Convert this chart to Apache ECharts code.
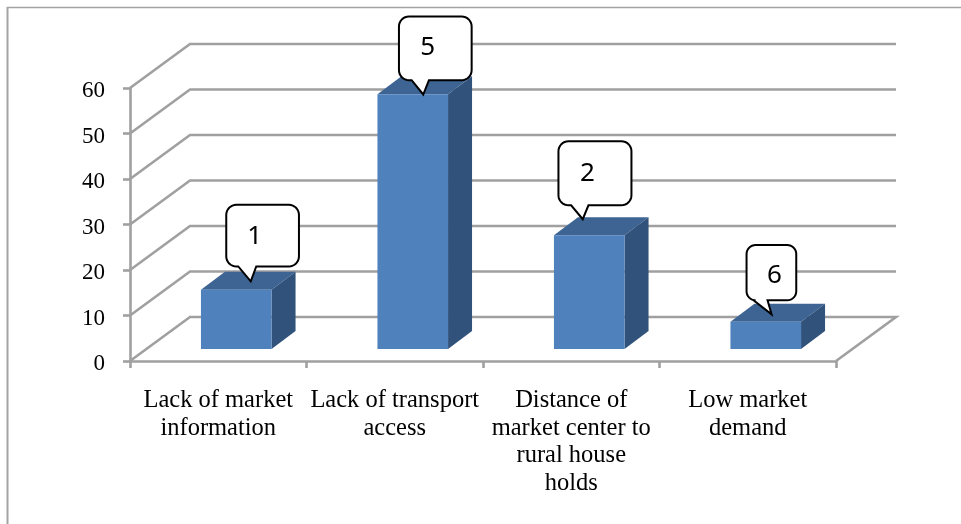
<!DOCTYPE html>
<html>
<head>
<meta charset="utf-8">
<title>Market access constraints</title>
<style>html,body{margin:0;padding:0;background:#fff}#chart{width:961px;height:524px}</style>
<script src="https://cdn.jsdelivr.net/npm/echarts@6/dist/echarts.min.js"></script>
</head>
<body>
<div id="chart"></div>
<script>
// Chart content
const categories = [
  'Lack of market\ninformation',
  'Lack of transport\naccess',
  'Distance of\nmarket center to\nrural house\nholds',
  'Low market\ndemand'
];
const values = [13, 56, 25, 6];
const calloutTexts = ['1', '5', '2', '6'];
const yTicks = [0, 10, 20, 30, 40, 50, 60];

// Callout shape relative to the centre of each bar's top edge
const calloutBoxes = [
  { x: -10, y: -85, w: 72.7, h: 61.6, r: 10, baseA: 12, baseB: 30, tipX: 14.5, tipY: -8.5, textX: 18.5, textY: -53 },
  { x: -13.8, y: -77.7, w: 72.7, h: 63.7, r: 10, baseA: 12.7, baseB: 30, tipX: 10.5, tipY: 0.3, textX: 14.9, textY: -46.4 },
  { x: -30.8, y: -94, w: 73, h: 64, r: 10, baseA: 12.7, baseB: 30, tipX: -6.5, tipY: -16, textX: -1.8, textY: -61.7 },
  { x: -19.2, y: -76.7, w: 49.7, h: 55.3, r: 9, baseA: 7, baseB: 21, tipX: 5.8, tipY: -7.4, textX: 8.8, textY: -45.7 }
];

const LABEL_FONT = '"Liberation Serif"';
const WALL = { dx: 60, dy: -44, color: '#a0a0a0', width: 2.6 };
const BAR = { shiftX: 18, shiftY: -12, depthX: 24, depthY: -18, widthRatio: 0.4,
              front: '#4f81bd', top: '#3d6493', side: '#31527b' };

// Traces a rounded rectangle with a pointed tail on its lower edge
function calloutOutline(b, cx, cy) {
  const x = cx + b.x, y = cy + b.y, r = b.r, pts = [];
  const arc = (ax, ay, from) => {
    for (let i = 0; i <= 8; i++) {
      const t = from + (i / 8) * Math.PI / 2;
      pts.push([ax + r * Math.cos(t), ay + r * Math.sin(t)]);
    }
  };
  arc(x + r, y + r, Math.PI);
  arc(x + b.w - r, y + r, -Math.PI / 2);
  arc(x + b.w - r, y + b.h - r, 0);
  pts.push([x + b.baseB, y + b.h], [cx + b.tipX, cy + b.tipY], [x + b.baseA, y + b.h]);
  arc(x + r, y + b.h - r, Math.PI / 2);
  return pts;
}

function renderWall(params, api) {
  const rect = params.coordSys;
  const v = api.value(1);
  const y = api.coord([0, v])[1];
  const left = rect.x, right = rect.x + rect.width;
  const points = [[left, y], [left + WALL.dx, y + WALL.dy], [right + WALL.dx, y + WALL.dy]];
  if (v === 0) points.push([right, y]);
  return {
    type: 'polyline',
    shape: { points },
    style: { fill: 'none', stroke: WALL.color, lineWidth: WALL.width }
  };
}

function renderBar(params, api) {
  const p = api.coord([api.value(0), api.value(1)]);
  const base = api.coord([api.value(0), 0]);
  const half = api.size([1, 0])[0] * BAR.widthRatio / 2;
  const xL = p[0] + BAR.shiftX - half, xR = p[0] + BAR.shiftX + half;
  const yT = p[1] + BAR.shiftY, yB = base[1] + BAR.shiftY;
  const dx = BAR.depthX, dy = BAR.depthY;
  return {
    type: 'group',
    children: [
      { type: 'polygon', shape: { points: [[xL, yT], [xR, yT], [xR + dx, yT + dy], [xL + dx, yT + dy]] },
        style: { fill: BAR.top } },
      { type: 'polygon', shape: { points: [[xR, yT], [xR + dx, yT + dy], [xR + dx, yB + dy], [xR, yB]] },
        style: { fill: BAR.side } },
      { type: 'rect', shape: { x: xL, y: yT, width: xR - xL, height: yB - yT },
        style: { fill: BAR.front } }
    ]
  };
}

function renderCallout(params, api) {
  const i = params.dataIndex;
  const p = api.coord([api.value(0), api.value(1)]);
  const cx = p[0] + BAR.shiftX, cy = p[1] + BAR.shiftY;
  const b = calloutBoxes[i];
  return {
    type: 'group',
    children: [
      { type: 'polygon', shape: { points: calloutOutline(b, cx, cy) },
        style: { fill: '#fff', stroke: '#000', lineWidth: 2 } },
      { type: 'text',
        style: { x: cx + b.textX, y: cy + b.textY, text: calloutTexts[i], fill: '#000',
                 font: '26px "Noto Sans"', align: 'center', verticalAlign: 'middle' } }
    ]
  };
}

const barData = values.map((v, i) => [i, v]);
const chart = echarts.init(document.getElementById('chart'), null, { renderer: 'canvas' });
chart.setOption({
  animation: false,
  backgroundColor: '#fff',
  grid: { left: 130, right: 125, top: 88, bottom: 163, containLabel: false },
  xAxis: {
    type: 'category',
    data: categories,
    axisLine: { lineStyle: { color: WALL.color, width: WALL.width } },
    axisTick: { show: true, length: 7, lineStyle: { color: WALL.color, width: WALL.width } },
    axisLabel: { interval: 0, color: '#000', margin: 26, fontFamily: LABEL_FONT, fontSize: 24.5, lineHeight: 27.6 },
    splitLine: { show: false }
  },
  yAxis: {
    type: 'value',
    min: 0,
    max: 60,
    interval: 10,
    axisLine: { show: true, lineStyle: { color: WALL.color, width: WALL.width } },
    axisTick: { show: true, length: 7, lineStyle: { color: WALL.color, width: WALL.width } },
    axisLabel: {
      margin: 25,
      formatter: '{tick|{value}}',
      rich: { tick: { color: '#000', fontFamily: LABEL_FONT, fontSize: 23, padding: [6, 0, 0, 0] } }
    },
    splitLine: { show: false }
  },
  graphic: [
    { type: 'line', silent: true, shape: { x1: 7, y1: 7.5, x2: 961, y2: 7.5 },
      style: { stroke: '#a3a3a3', lineWidth: 1.5 } },
    { type: 'line', silent: true, shape: { x1: 7.5, y1: 7, x2: 7.5, y2: 524 },
      style: { stroke: '#a3a3a3', lineWidth: 2 } }
  ],
  series: [
    { type: 'custom', name: 'walls', silent: true, z: 1, renderItem: renderWall,
      data: yTicks.map(v => [0, v]), encode: { x: 0, y: 1 } },
    { type: 'custom', name: 'bars', silent: true, z: 2, renderItem: renderBar,
      data: barData, encode: { x: 0, y: 1 } },
    { type: 'custom', name: 'callouts', silent: true, z: 3, renderItem: renderCallout,
      data: barData, encode: { x: 0, y: 1 } }
  ]
});
</script>
</body>
</html>
